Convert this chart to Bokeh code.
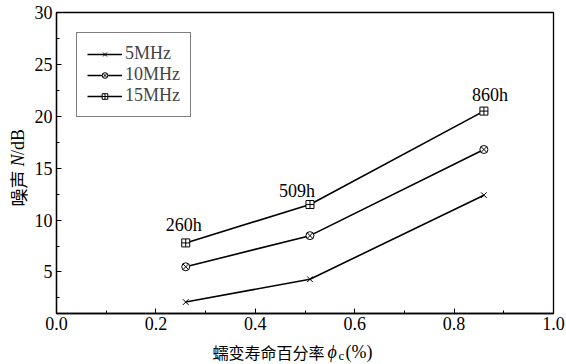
from bokeh.plotting import figure
from bokeh.models import (Range1d, FixedTicker, NumeralTickFormatter, Legend, LegendItem, Label)
from bokeh.core.properties import value
from bokeh.layouts import column, row
from bokeh.embed import file_html
from bokeh.resources import INLINE
import math

# ---- data ----
life_pct = [0.26, 0.51, 0.86]
noise_5mhz = [2.1, 4.3, 12.4]
noise_10mhz = [5.5, 8.5, 16.8]
noise_15mhz = [7.8, 11.5, 20.5]
hours_labels = ["260h", "509h", "860h"]
series_names = ["5MHz", "10MHz", "15MHz"]
x_ticks = [0.0, 0.2, 0.4, 0.6, 0.8, 1.0]
x_minor = [0.1, 0.3, 0.5, 0.7, 0.9]
y_ticks = [5, 10, 15, 20, 25, 30]
y_minor = [2.5, 7.5, 12.5, 17.5, 22.5, 27.5]

SERIF = "Liberation Serif"
CJK = "Noto Sans CJK SC"

# ---------------- main chart ----------------
p = figure(width=538, height=340, output_backend="svg", toolbar_location=None,
           x_range=Range1d(0, 1), y_range=Range1d(1, 30),
           min_border_left=28, min_border_right=13, min_border_top=12, min_border_bottom=27)
p.background_fill_color = "white"
p.border_fill_color = "white"
p.outline_line_color = "black"
p.outline_line_width = 1.3
p.xgrid.visible = False
p.ygrid.visible = False

for ax in (p.xaxis[0], p.yaxis[0]):
    ax.axis_line_color = "black"
    ax.axis_line_width = 1.3
    ax.major_tick_in = 5
    ax.major_tick_out = 0
    ax.minor_tick_in = 3
    ax.minor_tick_out = 0
    ax.major_tick_line_color = "black"
    ax.minor_tick_line_color = "black"
    ax.major_label_text_font = SERIF
    ax.major_label_text_font_size = "18px"
    ax.major_label_text_color = "black"

p.xaxis.ticker = FixedTicker(ticks=x_ticks, minor_ticks=x_minor)
p.xaxis.formatter = NumeralTickFormatter(format="0.0")
p.xaxis.major_label_standoff = 3
p.yaxis.ticker = FixedTicker(ticks=y_ticks, minor_ticks=y_minor)
p.yaxis.major_label_standoff = 4

series = [noise_5mhz, noise_10mhz, noise_15mhz]
markers = ["x", "circle_x", "square_cross"]
items = []
for name, ys, mk in zip(series_names, series, markers):
    r1 = p.line(life_pct, ys, line_color="black", line_width=1.6)
    r2 = p.scatter(life_pct, ys, marker=mk, size=8, fill_color="white",
                   line_color="black", line_width=1)
    items.append(LegendItem(label=name, renderers=[r1, r2]))

legend = Legend(items=items, location="top_left", border_line_color="black",
                border_line_width=1.2, background_fill_alpha=1,
                label_text_font=SERIF, label_text_font_size="18px",
                glyph_width=35, glyph_height=14, label_height=14,
                label_standoff=3, spacing=0, padding=10, margin=20)
p.add_layout(legend)

# hour annotations above the 15 MHz points
hour_dx = [-2, -13, 6]
hour_dy = [18, 14, 16]
for xv, yv, t, dx, dy in zip(life_pct, noise_15mhz, hours_labels, hour_dx, hour_dy):
    p.add_layout(Label(x=xv, y=yv, text=t, x_offset=dx, y_offset=dy,
                       text_font=SERIF, text_font_size="18px", text_align="center",
                       text_baseline="alphabetic", text_color="black"))

# ---------------- label strips ----------------
def text_fig(w, h):
    f = figure(width=w, height=h, output_backend="svg", toolbar_location=None,
               x_range=Range1d(0, w), y_range=Range1d(0, h),
               min_border=0, min_border_left=0, min_border_right=0,
               min_border_top=0, min_border_bottom=0)
    f.axis.visible = False
    f.grid.visible = False
    f.outline_line_color = None
    f.background_fill_color = "white"
    f.border_fill_color = "white"
    return f

yf = text_fig(28, 340)
def rot(txt, y, font, style="normal", size="17px"):
    yf.text(x=[17.5], y=[y], text=[txt], angle=math.pi / 2, text_font=value(font),
            text_font_style=style, text_font_size=size, text_align="left",
            text_baseline="middle", text_color="black")

rot("噪声", 121, CJK, size="18px")
rot("N", 166, SERIF, "italic", "18px")
rot("/dB", 179, SERIF, size="18px")

xf = text_fig(566, 24)
def hor(txt, x, y, font, style="normal", size="17px"):
    xf.text(x=[x], y=[y], text=[txt], text_font=value(font), text_font_style=style,
            text_font_size=size, text_align="left", text_baseline="alphabetic",
            text_color="black")

hor("蠕变寿命百分率", 212, 13, CJK, size="16px")
hor("ϕ", 327, 13, SERIF, "italic", "18px")
hor("c", 338, 9, SERIF, size="13px")
hor("(%)", 345, 13, SERIF, size="18px")

layout = column(row(yf, p, spacing=0), xf, spacing=0)
open("out.html", "w").write(file_html(layout, INLINE))
